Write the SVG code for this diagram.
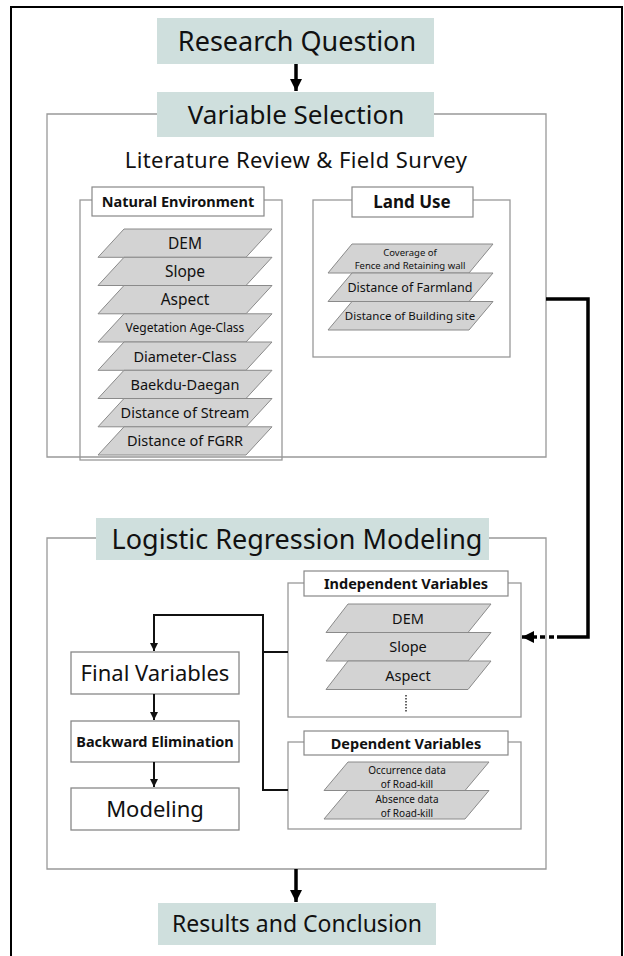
<svg xmlns="http://www.w3.org/2000/svg" width="624" height="956" viewBox="0 0 624 956">
<style>
text{font-family:"Noto Sans","Open Sans","DejaVu Sans",sans-serif;fill:#111;text-anchor:middle}
.hdr{fill:#cfdfdd;stroke:none}
.frame{fill:none;stroke:#999;stroke-width:1.3}
.lbl{fill:#fff;stroke:#888;stroke-width:1.2}
.par{fill:#d3d3d3;stroke:#8a8a8a;stroke-width:1}
.box{fill:#fff;stroke:#888;stroke-width:1.3}
.b{font-weight:bold}
.thick{fill:none;stroke:#000;stroke-width:3.5}
.thin{fill:none;stroke:#111;stroke-width:2}
</style>
<defs>
<marker id="big" markerUnits="userSpaceOnUse" markerWidth="14" markerHeight="12" refX="12" refY="6" orient="auto"><path d="M0,0 L12,6 L0,12 z" fill="#000"/></marker>
<marker id="small" markerUnits="userSpaceOnUse" markerWidth="9" markerHeight="8" refX="8" refY="4" orient="auto"><path d="M0,0 L8,4 L0,8 z" fill="#111"/></marker>
</defs>
<rect width="624" height="956" fill="#fff"/>
<path d="M11,956 V7 H622 V956" fill="none" stroke="#000" stroke-width="2"/>

<g id="frame-variable-selection">
<path class="frame" d="M157,114 H47 V457 H546 V114 H434"/>
<text x="296" y="168" font-size="22" letter-spacing="0.4">Literature Review &amp; Field Survey</text>
</g>
<g id="frame-logistic">
<path class="frame" d="M96,538 H47 V869 H546 V538 H489"/>
</g>

<g id="research-question">
<rect class="hdr" x="157" y="18" width="277" height="46"/>
<text x="297" y="51" font-size="27">Research Question</text>
</g>
<g id="variable-selection">
<rect class="hdr" x="157" y="92" width="277" height="45"/>
<text x="296" y="124" font-size="26">Variable Selection</text>
</g>

<g id="natural-environment">
<rect class="frame" x="80" y="200" width="202" height="260"/>
<rect class="lbl" x="92" y="187" width="172" height="29"/>
<text class="b" x="178" y="207" font-size="14.5">Natural Environment</text>
<polygon class="par" points="124,229 272,229 246,257.3 98,257.3"/>
<text x="185" y="249" font-size="15.5">DEM</text>
<polygon class="par" points="124,257.3 272,257.3 246,285.5 98,285.5"/>
<text x="185" y="277" font-size="15.5">Slope</text>
<polygon class="par" points="124,285.5 272,285.5 246,313.8 98,313.8"/>
<text x="185" y="305" font-size="15.5">Aspect</text>
<polygon class="par" points="124,313.8 272,313.8 246,342 98,342"/>
<text x="185" y="332" font-size="12">Vegetation Age-Class</text>
<polygon class="par" points="124,342 272,342 246,370.3 98,370.3"/>
<text x="185" y="362" font-size="14.5">Diameter-Class</text>
<polygon class="par" points="124,370.3 272,370.3 246,398.5 98,398.5"/>
<text x="185" y="390" font-size="14.5">Baekdu-Daegan</text>
<polygon class="par" points="124,398.5 272,398.5 246,426.8 98,426.8"/>
<text x="185" y="418" font-size="14.5">Distance of Stream</text>
<polygon class="par" points="124,426.8 272,426.8 246,455 98,455"/>
<text x="185" y="446" font-size="14.5">Distance of FGRR</text>
</g>

<g id="land-use">
<rect class="frame" x="313" y="200" width="197" height="157"/>
<rect class="lbl" x="352" y="187" width="121" height="30"/>
<text class="b" x="412" y="208" font-size="17">Land Use</text>
<polygon class="par" points="352,244 493,244 469,273 328,273"/>
<text font-size="9.5"><tspan x="410" y="256">Coverage of</tspan><tspan x="410" y="269">Fence and Retaining wall</tspan></text>
<polygon class="par" points="352,273 493,273 469,301.5 328,301.5"/>
<text x="410" y="292" font-size="12.5">Distance of Farmland</text>
<polygon class="par" points="352,301.5 493,301.5 469,330 328,330"/>
<text x="410" y="320" font-size="11.5">Distance of Building site</text>
</g>

<g id="logistic-regression-modeling">
<rect class="hdr" x="96" y="518" width="393" height="42"/>
<text x="297" y="549" font-size="27">Logistic Regression Modeling</text>
</g>

<g id="independent-variables">
<rect class="frame" x="288" y="583" width="233" height="134"/>
<rect class="lbl" x="304" y="571" width="204" height="25"/>
<text class="b" x="406" y="589" font-size="14.5">Independent Variables</text>
<polygon class="par" points="348,604 491,604 468,632.5 326,632.5"/>
<text x="408" y="624" font-size="14.5">DEM</text>
<polygon class="par" points="348,632.5 491,632.5 468,661 326,661"/>
<text x="408" y="652" font-size="14.5">Slope</text>
<polygon class="par" points="348,661 491,661 468,689.5 326,689.5"/>
<text x="408" y="681" font-size="14.5">Aspect</text>
<line x1="406" y1="695" x2="406" y2="713" stroke="#333" stroke-width="1.5" stroke-dasharray="1.5,1.5"/>
</g>

<g id="dependent-variables">
<rect class="frame" x="288" y="742" width="233" height="87"/>
<rect class="lbl" x="304" y="731" width="204" height="24"/>
<text class="b" x="406" y="749" font-size="14.5">Dependent Variables</text>
<polygon class="par" points="348,762 489,762 465,790.5 324,790.5"/>
<text font-size="10"><tspan x="407" y="774">Occurrence data</tspan><tspan x="407" y="788">of Road-kill</tspan></text>
<polygon class="par" points="348,790.5 489,790.5 465,819 324,819"/>
<text font-size="10"><tspan x="407" y="802.5">Absence data</tspan><tspan x="407" y="816.5">of Road-kill</tspan></text>
</g>

<g id="final-variables">
<rect class="box" x="71" y="652" width="168" height="42"/>
<text x="155" y="681" font-size="22">Final Variables</text>
</g>
<g id="backward-elimination">
<rect class="box" x="71" y="721" width="168" height="41"/>
<text class="b" x="155" y="747" font-size="14.5">Backward Elimination</text>
</g>
<g id="modeling">
<rect class="box" x="71" y="788" width="168" height="42"/>
<text x="155" y="817" font-size="22">Modeling</text>
</g>

<g id="results-and-conclusion">
<rect class="hdr" x="158" y="903" width="278" height="42"/>
<text x="297" y="932" font-size="23">Results and Conclusion</text>
</g>

<g id="connectors">
<line class="thick" x1="296" y1="64" x2="296" y2="91" marker-end="url(#big)"/>
<line class="thick" x1="296" y1="869" x2="296" y2="902" marker-end="url(#big)"/>
<path class="thick" d="M546,299 H588 V637 H557"/>
<line class="thick" x1="554" y1="637" x2="549" y2="637"/>
<line class="thick" x1="545" y1="637" x2="540" y2="637"/>
<line class="thick" x1="537" y1="637" x2="522" y2="637" marker-end="url(#big)"/>
<path class="thin" d="M288,652 H263 M288,790 H263 V615 H154 V651" marker-end="url(#small)"/>
<line class="thin" x1="154" y1="694" x2="154" y2="720" marker-end="url(#small)"/>
<line class="thin" x1="154" y1="762" x2="154" y2="787" marker-end="url(#small)"/>
</g>
</svg>
